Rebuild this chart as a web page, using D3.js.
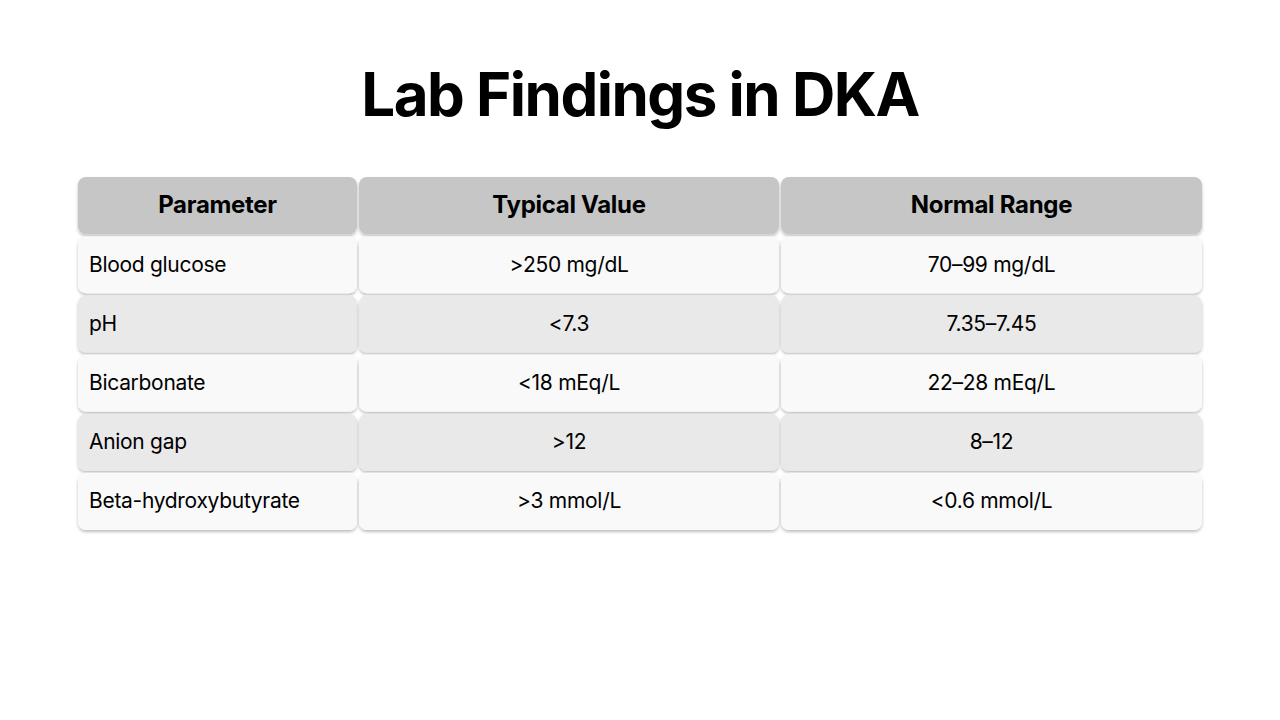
<!DOCTYPE html><html><head><meta charset="utf-8">
<script src="https://cdn.jsdelivr.net/npm/d3@7"></script>
<style>body{margin:0;background:#fff}</style></head><body><svg id="c" width="1280" height="720"></svg>
<script>
const title = "Lab Findings in DKA";
const headers = ["Parameter","Typical Value","Normal Range"];
const parameters = ["Blood glucose","pH","Bicarbonate","Anion gap","Beta-hydroxybutyrate"];
const typicalValues = [">250 mg/dL","<7.3","<18 mEq/L",">12",">3 mmol/L"];
const normalRanges = ["70–99 mg/dL","7.35–7.45","22–28 mEq/L","8–12","<0.6 mmol/L"];

const svg = d3.select("#c");
const defs = svg.append("defs");
const f = defs.append("filter").attr("id","sh").attr("x","-10%").attr("y","-20%").attr("width","120%").attr("height","150%");
f.append("feDropShadow").attr("dx",0).attr("dy",2).attr("stdDeviation",1.5).attr("flood-color","#000").attr("flood-opacity",0.25);

svg.append("text").attr("x",640).attr("y",116).attr("text-anchor","middle")
  .attr("font-family","Inter, sans-serif").attr("font-weight",700).attr("font-size",60)
  .attr("letter-spacing",-1.5).attr("fill","#000").text(title);

const colEdges = [77,358,780,1203];
const x = d3.scaleOrdinal().domain(headers).range(colEdges.slice(0,3));
const widths = colEdges.slice(1).map((e,i)=>e-colEdges[i]);
const rowKeys = ["h"].concat(d3.range(parameters.length));
const y = d3.scaleBand().domain(rowKeys).range([176,531]).padding(0);

const rows = [headers].concat(parameters.map((p,i)=>[p,typicalValues[i],normalRanges[i]]));
rows.forEach((r,ri)=>{
  const key = rowKeys[ri];
  r.forEach((t,ci)=>{
    const x0 = x(headers[ci]), w = widths[ci];
    const fill = ri===0 ? "#c6c6c6" : (ri%2===1 ? "#f9f9f9" : "#e9e9e9");
    svg.append("rect").attr("x",x0+1).attr("y",y(key)+1).attr("width",w-2).attr("height",y.bandwidth()-2)
      .attr("rx",8).attr("fill",fill).attr("filter","url(#sh)");
    const left = ci===0 && ri>0;
    svg.append("text").attr("x", left ? x0+12 : x0+w/2).attr("y", y(key)+y.bandwidth()/2+7)
      .attr("text-anchor", left ? "start":"middle")
      .attr("font-family","Inter, sans-serif").attr("font-size", ri===0?24:21)
      .attr("font-weight", ri===0?700:400).attr("letter-spacing",-0.3).attr("fill","#000").text(t);
  });
});
</script></body></html>
